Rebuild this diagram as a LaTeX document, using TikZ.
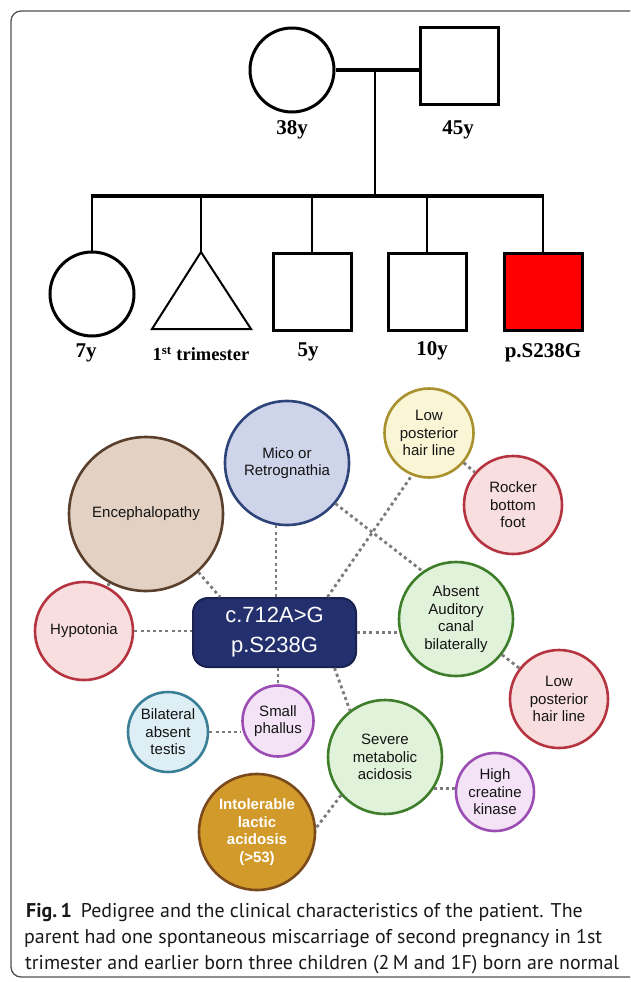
\documentclass[tikz,border=0pt]{standalone}
\usepackage{fontspec}
\setmainfont{Liberation Sans}
\newfontfamily\pedfont{Liberation Serif}
\newfontfamily\capfont{PT Sans}
\usetikzlibrary{calc}
\definecolor{framegray}{HTML}{505050}
\definecolor{dotgray}{HTML}{7A7A7A}
\definecolor{navyfill}{HTML}{24306E}
\definecolor{navyline}{HTML}{18214F}
\definecolor{micofill}{HTML}{CED4E9}
\definecolor{micoline}{HTML}{2E4479}
\definecolor{encfill}{HTML}{E3D2C3}
\definecolor{encline}{HTML}{5B3F2D}
\definecolor{pinkfill}{HTML}{F8DEDF}
\definecolor{redline}{HTML}{B5343F}
\definecolor{yelfill}{HTML}{FAF5D5}
\definecolor{yelline}{HTML}{A9912D}
\definecolor{grnfill}{HTML}{E1F2DA}
\definecolor{grnline}{HTML}{3E7D2A}
\definecolor{bluefill}{HTML}{DDEFF5}
\definecolor{blueline}{HTML}{3A7F97}
\definecolor{purfill}{HTML}{F4E3F7}
\definecolor{purline}{HTML}{9B4DB3}
\definecolor{goldfill}{HTML}{D19A2B}
\definecolor{goldline}{HTML}{7B4A1C}
\definecolor{pedred}{HTML}{FF0000}
\begin{document}
\begin{tikzpicture}[x=1pt,y=-1pt,
  pedshape/.style={draw=black, line width=3pt, fill=white, inner sep=0pt},
  pedsq/.style={pedshape, rectangle, minimum width=78pt, minimum height=77pt},
  pedcirc/.style={pedshape, circle, minimum size=84pt},
  pedlbl/.style={font=\pedfont\bfseries\fontsize{21}{24}\selectfont, inner sep=0pt},
  thinline/.style={line width=2pt},
  thickline/.style={line width=3.3pt},
  bub/.style={circle, line width=2.6pt, inner sep=0pt, align=center,
    font=\fontsize{15}{17.5}\selectfont, text=black!92},
  dots/.style={draw=dotgray, line width=2.8pt, dash pattern=on 3pt off 3.2pt},
  capline/.style={anchor=base west, inner sep=0pt, font=\capfont\fontsize{19.9}{23}\selectfont, text=black!90}
]
\path[use as bounding box, clip] (0,0) rectangle (630,982);
\fill[white] (0,0) rectangle (630,982);
\draw[framegray, line width=1.3pt, rounded corners=10pt] (11,11) rectangle (650,977);

% ---------- pedigree ----------
\node[pedcirc] (mother) at (292,70) {};
\node[pedsq] (father) at (459,66) {};
\draw[thickline] (mother.east) -- (mother.east -| father.west);
\coordinate (mar) at (375,70);
\coordinate (sib) at (375,196);
\draw[thinline] (mar) -- (sib);
\coordinate (sibL) at (92,196);
\coordinate (sibR) at (543,196);
\draw[thickline] ([xshift=-1pt]sibL) -- ([xshift=1pt]sibR);

\node[pedcirc] (girl) at (92,294) {};
\coordinate (tri) at (201,252);
\draw[line width=2pt, line join=miter] (tri) -- (152,329) -- (251,329) -- cycle;
\node[pedsq] (boyA) at (312,291.5) {};
\node[pedsq] (boyB) at (427,291.5) {};
\node[pedsq, fill=pedred] (pat) at (543,291.5) {};

\draw[thinline] (girl.north |- sib) -- (girl.north);
\draw[thinline] (tri |- sib) -- (tri);
\draw[thinline] (boyA.north |- sib) -- (boyA.north);
\draw[thinline] (boyB.north |- sib) -- (boyB.north);
\draw[thinline] (pat.north |- sib) -- (pat.north);

\node[pedlbl] (lm) at (292,130) {38y};
\node[pedlbl] (lf) at (458,130) {45y};
\node[pedlbl] (lg) at (86,353) {7y};
\node[pedlbl, font=\pedfont\bfseries\fontsize{18.5}{20}\selectfont] (lt) at (201,354) {1\textsuperscript{st} trimester};
\node[pedlbl] (la) at (308,352) {5y};
\node[pedlbl] (lb) at (432,351) {10y};
\node[pedlbl] (lp) at (543,353) {p.S238G};

% ---------- network ----------
\node[bub, draw=micoline, fill=micofill, minimum size=124pt] (mico) at (287,463) {Mico or\\Retrognathia};
\node[bub, draw=encline, fill=encfill, minimum size=154pt] (enc) at (146,514) {Encephalopathy};
\node[bub, draw=redline, fill=pinkfill, minimum size=98pt] (hypo) at (84,631) {Hypotonia};
\node[bub, draw=yelline, fill=yelfill, minimum size=89pt] (lpt) at (429,433) {Low\\posterior\\hair line};
\node[bub, draw=redline, fill=pinkfill, minimum size=98pt] (rock) at (513,505) {Rocker\\bottom\\foot};
\node[bub, draw=grnline, fill=grnfill, minimum size=114pt] (abs) at (456,619) {Absent\\Auditory\\canal\\bilaterally};
\node[bub, draw=redline, fill=pinkfill, minimum size=98pt] (lpr) at (559,699) {Low\\posterior\\hair line};
\node[bub, draw=blueline, fill=bluefill, minimum size=80pt] (bil) at (168,732) {Bilateral\\absent\\testis};
\node[bub, draw=purline, fill=purfill, minimum size=71pt] (sp) at (278,721) {Small\\phallus};
\node[bub, draw=grnline, fill=grnfill, minimum size=114pt] (sev) at (385,757) {Severe\\metabolic\\acidosis};
\node[bub, draw=purline, fill=purfill, minimum size=78pt] (hck) at (495,792) {High\\creatine\\kinase};
\node[bub, draw=goldline, fill=goldfill, minimum size=116pt, text=white,
  font=\bfseries\fontsize{15}{17.5}\selectfont] (int) at (257,832) {Intolerable\\lactic\\acidosis\\(>53)};

\node[rectangle, rounded corners=15pt, draw=navyline, fill=navyfill, line width=2pt,
  minimum width=163pt, minimum height=69pt, align=center, text=white, inner sep=0pt,
  font=\fontsize{22}{30}\selectfont] (box) at (274.5,632.5) {c.712A>G\\p.S238G};

% connectors
\draw[dots] (hypo.east) -- (hypo.east -| box.west);
\draw[dots] (enc.-48) -- ([xshift=28pt]box.north west);
\draw[dots] (enc) -- (hypo);
\draw[dots] (mico.-100) -- (mico.-100 |- box.north);
\draw[dots] ([xshift=53pt]box.north) -- (lpt.-112);
\draw[dots] (mico.-40) -- (abs.125);
\draw[dots] (lpt) -- (rock);
\draw[dots] (box.east) -- (box.east -| abs.west);
\draw[dots] (abs) -- (lpr);
\draw[dots] (sp.north |- box.south) -- (sp.north);
\draw[dots] (bil.east) -- (bil.east -| sp.west);
\draw[dots] ([xshift=60pt]box.south) -- (sev.127);
\draw[dots] (sev.-33) -- (sev.-33 -| hck.west);
\draw[dots] (sev.-139) -- (int.4);

% ---------- caption ----------
\node[capline] (cap1) at (26,917) {{\bfseries Fig.\,1}\hspace{9pt}Pedigree and the clinical characteristics of the patient. The};
\node[capline] (cap2) at (24,943) {parent had one spontaneous miscarriage of second pregnancy in 1st};
\node[capline] (cap3) at (25,969) {trimester and earlier born three children (2\,M and 1F) born are normal};
\end{tikzpicture}
\end{document}
